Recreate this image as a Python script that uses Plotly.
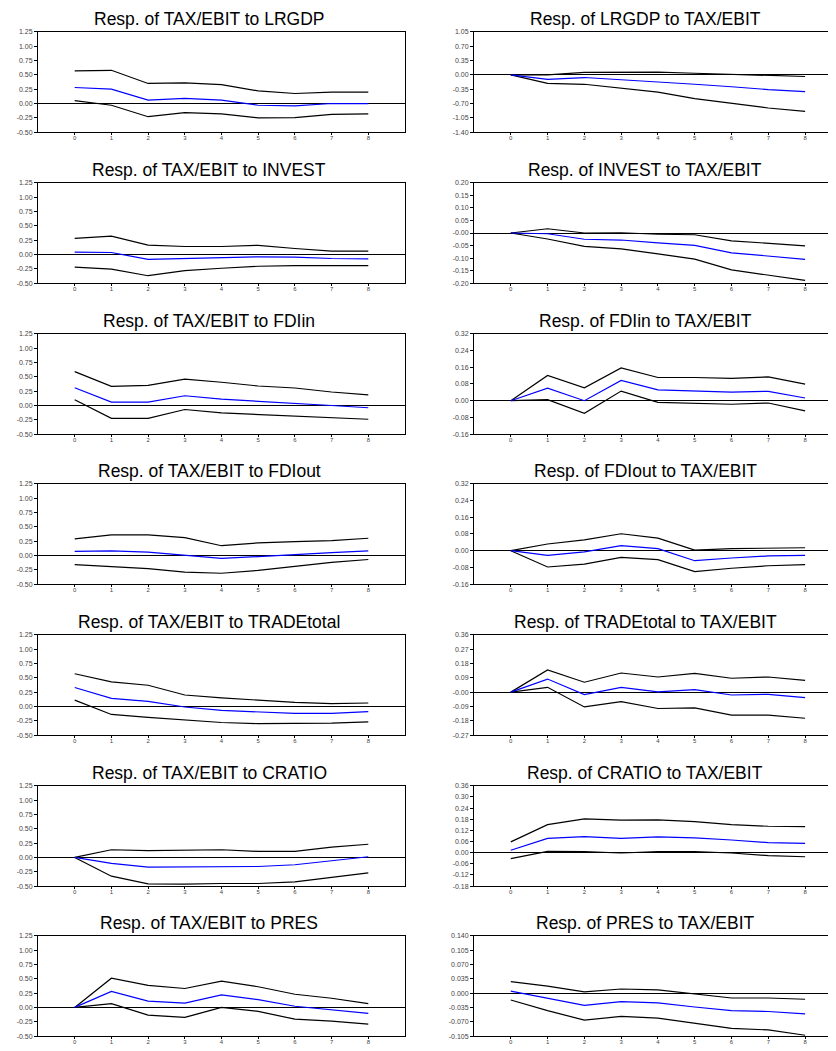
import plotly.graph_objects as go

horizon = [0, 1, 2, 3, 4, 5, 6, 7, 8]

# ---------------- Left column: responses of TAX/EBIT ----------------
titles_left = [
    "Resp. of TAX/EBIT to LRGDP",
    "Resp. of TAX/EBIT to INVEST",
    "Resp. of TAX/EBIT to FDIin",
    "Resp. of TAX/EBIT to FDIout",
    "Resp. of TAX/EBIT to TRADEtotal",
    "Resp. of TAX/EBIT to CRATIO",
    "Resp. of TAX/EBIT to PRES",
]

lrgdp_resp = [0.28, 0.25, 0.06, 0.09, 0.06, -0.03, -0.04, 0.00, 0.00]
lrgdp_upper = [0.57, 0.58, 0.35, 0.36, 0.33, 0.22, 0.175, 0.20, 0.20]
lrgdp_lower = [0.05, -0.03, -0.23, -0.16, -0.18, -0.25, -0.245, -0.19, -0.18]

invest_resp = [0.04, 0.035, -0.085, -0.07, -0.045, -0.04, -0.045, -0.07, -0.075]
invest_upper = [0.28, 0.32, 0.165, 0.14, 0.14, 0.16, 0.105, 0.06, 0.06]
invest_lower = [-0.22, -0.255, -0.37, -0.28, -0.24, -0.205, -0.195, -0.20, -0.195]

fdiin_resp = [0.31, 0.06, 0.06, 0.17, 0.11, 0.075, 0.045, 0.00, -0.04]
fdiin_upper = [0.59, 0.335, 0.35, 0.46, 0.405, 0.34, 0.305, 0.235, 0.185]
fdiin_lower = [0.10, -0.225, -0.225, -0.07, -0.13, -0.155, -0.18, -0.21, -0.24]

fdiout_resp = [0.07, 0.08, 0.06, 0.00, -0.05, -0.02, 0.02, 0.05, 0.08]
fdiout_upper = [0.29, 0.36, 0.36, 0.31, 0.17, 0.22, 0.24, 0.26, 0.30]
fdiout_lower = [-0.16, -0.20, -0.23, -0.29, -0.31, -0.26, -0.19, -0.12, -0.07]

trade_resp = [0.33, 0.14, 0.09, -0.01, -0.07, -0.10, -0.12, -0.12, -0.09]
trade_upper = [0.57, 0.43, 0.37, 0.20, 0.15, 0.11, 0.07, 0.05, 0.06]
trade_lower = [0.11, -0.14, -0.19, -0.23, -0.28, -0.30, -0.30, -0.29, -0.27]

cratio_resp = [0.0, -0.105, -0.17, -0.163, -0.152, -0.158, -0.128, -0.058, 0.012]
cratio_upper = [0.0, 0.134, 0.117, 0.123, 0.134, 0.105, 0.105, 0.18, 0.23]
cratio_lower = [0.0, -0.327, -0.46, -0.467, -0.455, -0.455, -0.426, -0.35, -0.268]

pres_resp = [0.0, 0.28, 0.11, 0.075, 0.22, 0.135, 0.02, -0.04, -0.105]
pres_upper = [0.0, 0.51, 0.385, 0.33, 0.46, 0.36, 0.23, 0.16, 0.065]
pres_lower = [0.0, 0.065, -0.135, -0.175, 0.0, -0.07, -0.205, -0.24, -0.29]

left_ticks = [1.25, 1.00, 0.75, 0.50, 0.25, 0.00, -0.25, -0.50]
left_ticklabels = ["1.25", "1.00", "0.75", "0.50", "0.25", "0.00", "-0.25", "-0.50"]

# ---------------- Right column: responses to TAX/EBIT ----------------
titles_right = [
    "Resp. of LRGDP to TAX/EBIT",
    "Resp. of INVEST to TAX/EBIT",
    "Resp. of FDIin to TAX/EBIT",
    "Resp. of FDIout to TAX/EBIT",
    "Resp. of TRADEtotal to TAX/EBIT",
    "Resp. of CRATIO to TAX/EBIT",
    "Resp. of PRES to TAX/EBIT",
]

r_lrgdp_resp = [0.0, -0.11, -0.065, -0.12, -0.16, -0.23, -0.29, -0.36, -0.41]
r_lrgdp_upper = [0.0, 0.0, 0.06, 0.06, 0.065, 0.04, 0.01, -0.02, -0.04]
r_lrgdp_lower = [0.0, -0.21, -0.23, -0.32, -0.42, -0.58, -0.69, -0.81, -0.89]

r_invest_resp = [0.0, -0.003, -0.025, -0.028, -0.039, -0.049, -0.079, -0.093, -0.105]
r_invest_upper = [0.0, 0.017, 0.0, 0.001, -0.005, -0.007, -0.031, -0.041, -0.051]
r_invest_lower = [0.0, -0.024, -0.053, -0.063, -0.083, -0.104, -0.147, -0.167, -0.189]

r_fdiin_resp = [0.0, 0.060, 0.0, 0.097, 0.052, 0.045, 0.041, 0.045, 0.013]
r_fdiin_upper = [0.0, 0.121, 0.062, 0.157, 0.111, 0.111, 0.107, 0.114, 0.079]
r_fdiin_lower = [0.0, 0.005, -0.060, 0.046, -0.008, -0.014, -0.017, -0.011, -0.049]

r_fdiout_resp = [0.0, -0.022, -0.006, 0.024, 0.010, -0.048, -0.035, -0.025, -0.022]
r_fdiout_upper = [0.0, 0.032, 0.052, 0.081, 0.060, 0.003, 0.010, 0.013, 0.014]
r_fdiout_lower = [0.0, -0.078, -0.064, -0.032, -0.043, -0.100, -0.084, -0.072, -0.067]

r_trade_resp = [0.0, 0.082, -0.016, 0.030, 0.001, 0.016, -0.018, -0.014, -0.034]
r_trade_upper = [0.0, 0.139, 0.062, 0.120, 0.095, 0.118, 0.087, 0.095, 0.074]
r_trade_lower = [0.0, 0.030, -0.093, -0.060, -0.103, -0.099, -0.145, -0.145, -0.164]

r_cratio_resp = [0.013, 0.077, 0.086, 0.077, 0.085, 0.079, 0.068, 0.054, 0.050]
r_cratio_upper = [0.058, 0.151, 0.182, 0.175, 0.176, 0.167, 0.151, 0.142, 0.140]
r_cratio_lower = [-0.032, 0.007, 0.005, -0.002, 0.005, 0.005, -0.002, -0.016, -0.022]

r_pres_resp = [0.005, -0.012, -0.030, -0.021, -0.024, -0.034, -0.043, -0.045, -0.051]
r_pres_upper = [0.028, 0.017, 0.003, 0.010, 0.008, -0.002, -0.012, -0.012, -0.015]
r_pres_lower = [-0.017, -0.043, -0.066, -0.057, -0.061, -0.073, -0.086, -0.090, -0.103]

r_lrgdp_ticks = [1.05, 0.70, 0.35, 0.00, -0.35, -0.70, -1.05, -1.40]
r_lrgdp_ticklabels = ["1.05", "0.70", "0.35", "0.00", "-0.35", "-0.70", "-1.05", "-1.40"]
r_invest_ticks = [0.20, 0.15, 0.10, 0.05, 0.0, -0.05, -0.10, -0.15, -0.20]
r_invest_ticklabels = ["0.20", "0.15", "0.10", "0.05", "-0.00", "-0.05", "-0.10", "-0.15", "-0.20"]
r_fdi_ticks = [0.32, 0.24, 0.16, 0.08, 0.00, -0.08, -0.16]
r_fdi_ticklabels = ["0.32", "0.24", "0.16", "0.08", "0.00", "-0.08", "-0.16"]
r_trade_ticks = [0.36, 0.27, 0.18, 0.09, 0.0, -0.09, -0.18, -0.27]
r_trade_ticklabels = ["0.36", "0.27", "0.18", "0.09", "-0.00", "-0.09", "-0.18", "-0.27"]
r_cratio_ticks = [0.36, 0.30, 0.24, 0.18, 0.12, 0.06, 0.00, -0.06, -0.12, -0.18]
r_cratio_ticklabels = ["0.36", "0.30", "0.24", "0.18", "0.12", "0.06", "0.00", "-0.06", "-0.12", "-0.18"]
r_pres_ticks = [0.140, 0.105, 0.070, 0.035, 0.000, -0.035, -0.070, -0.105]
r_pres_ticklabels = ["0.140", "0.105", "0.070", "0.035", "0.000", "-0.035", "-0.070", "-0.105"]

x_ticklabels = ["0", "1", "2", "3", "4", "5", "6", "7", "8"]

left_panels = [
    (lrgdp_resp, lrgdp_upper, lrgdp_lower),
    (invest_resp, invest_upper, invest_lower),
    (fdiin_resp, fdiin_upper, fdiin_lower),
    (fdiout_resp, fdiout_upper, fdiout_lower),
    (trade_resp, trade_upper, trade_lower),
    (cratio_resp, cratio_upper, cratio_lower),
    (pres_resp, pres_upper, pres_lower),
]
right_panels = [
    (r_lrgdp_resp, r_lrgdp_upper, r_lrgdp_lower, r_lrgdp_ticks, r_lrgdp_ticklabels),
    (r_invest_resp, r_invest_upper, r_invest_lower, r_invest_ticks, r_invest_ticklabels),
    (r_fdiin_resp, r_fdiin_upper, r_fdiin_lower, r_fdi_ticks, r_fdi_ticklabels),
    (r_fdiout_resp, r_fdiout_upper, r_fdiout_lower, r_fdi_ticks, r_fdi_ticklabels),
    (r_trade_resp, r_trade_upper, r_trade_lower, r_trade_ticks, r_trade_ticklabels),
    (r_cratio_resp, r_cratio_upper, r_cratio_lower, r_cratio_ticks, r_cratio_ticklabels),
    (r_pres_resp, r_pres_upper, r_pres_lower, r_pres_ticks, r_pres_ticklabels),
]

# ---------------- Layout geometry ----------------
# The page body has an 8px margin, so the figure is offset by 8px; coordinates below
# are in figure pixels (page pixels minus 8).
OFF = 8
W, H = 836 - OFF, 1051 - OFF
panel_tops = [t - OFF for t in (28, 180, 332, 483, 635, 787, 938)]
panel_h = 101
left_x = (38 - OFF, 405 - OFF)
right_x = (474 - OFF, 836 - OFF)
title_cx = (209 - OFF, 645 - OFF)

FONT = "Liberation Sans, Arial, Helvetica, sans-serif"
fig = go.Figure()
layout = dict(
    width=W, height=H,
    margin=dict(l=0, r=0, t=0, b=0),
    paper_bgcolor="white", plot_bgcolor="white",
    showlegend=False,
    font=dict(family=FONT, color="#000000"),
)
annotations = []


def add_panel(idx, col, resp, upper, lower, ticks, ticklabels, title, xrange_max, mirror_y):
    n = idx + 1
    xa = "x" if n == 1 else f"x{n}"
    ya = "y" if n == 1 else f"y{n}"
    xkey = "xaxis" if n == 1 else f"xaxis{n}"
    ykey = "yaxis" if n == 1 else f"yaxis{n}"
    row = idx // 2
    top = panel_tops[row]
    x0, x1 = left_x if col == 0 else right_x
    ydom = [1 - (top + panel_h) / H, 1 - top / H]
    xdom = [x0 / W, x1 / W]
    layout[xkey] = dict(
        domain=xdom, anchor=ya, range=[-1, xrange_max],
        tickmode="array", tickvals=horizon, ticktext=x_ticklabels,
        ticks="outside", ticklen=2, tickwidth=1, tickcolor="#000",
        ticklabelstandoff=-2,
        tickfont=dict(size=6, color="#444444", family=FONT),
        showline=True, linecolor="#000", linewidth=1, mirror=True,
        showgrid=False, zeroline=False, fixedrange=True,
    )
    layout[ykey] = dict(
        domain=ydom, anchor=xa, range=[ticks[-1], ticks[0]],
        tickmode="array", tickvals=ticks, ticktext=ticklabels,
        ticks="outside", ticklen=3, tickwidth=1, tickcolor="#000",
        tickfont=dict(size=7, color="#444444", family=FONT),
        showline=True, linecolor="#000", linewidth=1, mirror=mirror_y,
        showgrid=False, zeroline=True, zerolinecolor="#000", zerolinewidth=1,
        fixedrange=True,
    )
    for series, color in ((upper, "#000000"), (lower, "#000000"), (resp, "#0000FF")):
        fig.add_trace(go.Scatter(
            x=horizon, y=series, mode="lines", xaxis=xa, yaxis=ya,
            line=dict(color=color, width=1.2), hoverinfo="skip",
        ))
    annotations.append(dict(
        text=title, xref="paper", yref="paper",
        x=title_cx[col] / W, y=1 - (top - 13) / H, xanchor="center", yanchor="middle",
        showarrow=False, font=dict(size=17.5, family=FONT, color="#000"),
    ))


for r in range(7):
    resp, up, lo = left_panels[r]
    add_panel(2 * r, 0, resp, up, lo, left_ticks, left_ticklabels, titles_left[r], 9.0, True)
    rresp, rup, rlo, rt, rtl = right_panels[r]
    add_panel(2 * r + 1, 1, rresp, rup, rlo, rt, rtl, titles_right[r], 8.84, False)

layout["annotations"] = annotations
fig.update_layout(**layout)
fig.write_html("out.html")
